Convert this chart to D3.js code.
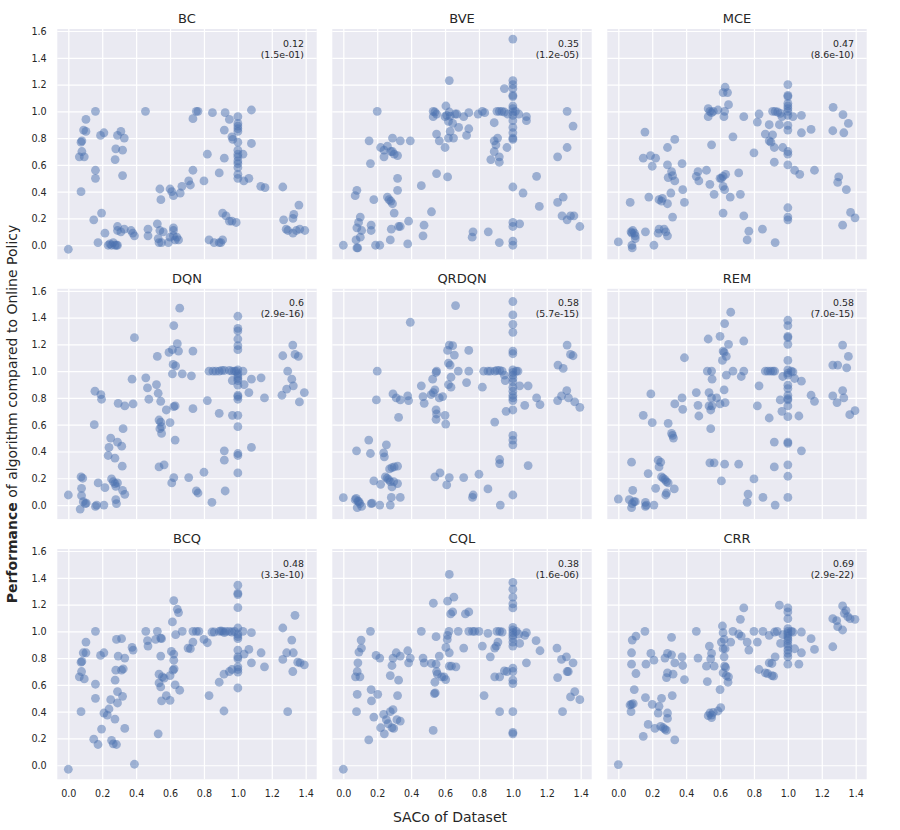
<!DOCTYPE html>
<html>
<head>
<meta charset="utf-8">
<script src="https://cdn.jsdelivr.net/npm/d3@7"></script>
<style>
  body { margin: 0; background: #fff; }
  svg { font-family: "DejaVu Sans", sans-serif; }
</style>
</head>
<body>
<svg id="chart"></svg>
<script>
// panel names, correlation and p-value labels
let algorithms = ["BC", "BVE", "MCE", "DQN", "QRDQN", "REM", "BCQ", "CQL", "CRR"];
let corrLabels = ["0.12", "0.35", "0.47", "0.6", "0.58", "0.58", "0.48", "0.38", "0.69"];
let pLabels = ["(1.5e-01)", "(1.2e-05)", "(8.6e-10)", "(2.9e-16)", "(5.7e-15)", "(7.0e-15)", "(3.3e-10)", "(1.6e-06)", "(2.9e-22)"];

let xTicks = [0, 0.2, 0.4, 0.6, 0.8, 1.0, 1.2, 1.4];
let yTicks = [0, 0.2, 0.4, 0.6, 0.8, 1.0, 1.2, 1.4, 1.6];

// [SACo, performance] per algorithm
let bc = [[0.0,-0.03],[0.075,0.40],[0.065,0.66],[0.08,0.70],[0.075,0.77],[0.08,0.78],[0.094,0.66],[0.09,0.86],[0.104,0.85],[0.104,0.94],[0.16,1.0],[0.16,0.56],[0.16,0.50],[0.15,0.19],[0.175,0.02],[0.196,0.24],[0.19,0.82],[0.21,0.84],[0.216,0.09],[0.235,0.0],[0.245,0.01],[0.255,0.0],[0.265,0.02],[0.275,0.0],[0.284,0.0],[0.29,0.0],[0.276,0.64],[0.28,0.72],[0.29,0.82],[0.31,0.85],[0.32,0.71],[0.33,0.80],[0.32,0.52],[0.29,0.14],[0.29,0.11],[0.31,0.10],[0.33,0.12],[0.37,0.11],[0.38,0.09],[0.39,0.07],[0.455,1.0],[0.47,0.12],[0.47,0.07],[0.525,0.16],[0.53,0.05],[0.535,0.02],[0.55,0.02],[0.54,0.11],[0.56,0.10],[0.54,0.42],[0.546,0.34],[0.59,0.02],[0.60,0.06],[0.60,0.42],[0.61,0.40],[0.62,0.37],[0.62,0.13],[0.62,0.07],[0.63,0.04],[0.64,0.06],[0.65,0.04],[0.62,0.11],[0.66,0.39],[0.67,0.44],[0.71,0.48],[0.72,0.45],[0.735,0.56],[0.735,0.945],[0.755,1.0],[0.765,1.0],[0.80,0.48],[0.82,0.68],[0.83,0.04],[0.85,0.99],[0.86,0.02],[0.89,0.02],[0.90,0.02],[0.91,0.04],[0.89,0.54],[0.92,0.65],[0.92,0.86],[0.925,0.99],[0.91,0.24],[0.93,0.22],[0.95,0.18],[0.965,0.18],[0.99,0.17],[0.95,0.94],[0.965,0.81],[0.97,0.79],[1.0,0.96],[1.0,0.91],[1.0,0.89],[1.0,0.87],[1.0,0.85],[1.0,0.77],[1.0,0.71],[1.0,0.68],[1.0,0.66],[1.0,0.63],[1.0,0.61],[1.0,0.58],[1.0,0.53],[1.0,0.50],[1.03,0.68],[1.035,0.48],[1.065,0.50],[1.08,1.01],[1.08,0.76],[1.135,0.44],[1.16,0.43],[1.265,0.435],[1.27,0.19],[1.285,0.12],[1.295,0.11],[1.325,0.09],[1.325,0.20],[1.33,0.23],[1.36,0.30],[1.345,0.11],[1.365,0.12],[1.395,0.11]];

let bve = [[0.0,0.0],[0.08,-0.02],[0.085,-0.02],[0.075,0.04],[0.1,0.06],[0.08,0.13],[0.09,0.17],[0.1,0.21],[0.108,0.11],[0.07,0.37],[0.08,0.41],[0.164,0.15],[0.164,0.11],[0.19,0.0],[0.215,0.0],[0.18,0.34],[0.16,0.61],[0.152,0.78],[0.2,1.0],[0.22,0.73],[0.24,0.66],[0.24,0.71],[0.26,0.74],[0.28,0.70],[0.29,0.70],[0.30,0.68],[0.32,0.67],[0.29,0.80],[0.336,0.78],[0.395,0.78],[0.26,0.36],[0.27,0.34],[0.28,0.33],[0.29,0.31],[0.32,0.50],[0.32,0.41],[0.30,0.24],[0.283,0.12],[0.326,0.14],[0.336,0.14],[0.277,0.04],[0.38,0.01],[0.385,0.18],[0.46,0.445],[0.476,0.15],[0.47,0.07],[0.52,0.25],[0.55,0.535],[0.55,0.83],[0.566,0.78],[0.53,1.0],[0.54,0.995],[0.53,0.96],[0.55,0.98],[0.605,1.04],[0.625,1.23],[0.6,0.96],[0.61,0.97],[0.62,0.925],[0.625,0.995],[0.63,0.965],[0.645,0.91],[0.66,0.98],[0.67,0.98],[0.68,0.88],[0.63,0.85],[0.62,0.80],[0.65,0.80],[0.60,0.73],[0.615,0.51],[0.71,0.96],[0.74,0.99],[0.74,0.87],[0.727,0.82],[0.795,0.98],[0.82,1.0],[0.834,0.99],[0.89,0.915],[0.91,0.80],[0.89,0.78],[0.90,0.75],[0.89,0.70],[0.92,0.66],[0.92,0.62],[0.87,0.64],[0.906,1.0],[0.92,1.0],[0.935,1.0],[0.95,0.995],[0.95,1.17],[0.965,0.73],[0.97,0.98],[1.0,1.54],[1.0,1.23],[1.0,1.20],[1.0,1.17],[1.0,1.12],[1.0,1.11],[1.0,1.04],[1.0,1.02],[1.0,0.995],[1.0,0.97],[1.0,0.93],[1.0,0.88],[1.0,0.84],[1.0,0.80],[1.0,0.79],[1.015,1.0],[1.035,0.98],[1.0,0.435],[1.0,0.17],[1.0,0.14],[1.04,0.16],[1.0,0.03],[1.0,0.0],[0.92,0.02],[0.855,0.10],[0.765,0.10],[0.76,0.06],[1.06,0.39],[1.08,0.96],[1.08,0.93],[1.14,0.515],[1.156,0.29],[1.264,0.66],[1.32,0.73],[1.32,1.0],[1.355,0.89],[1.264,0.32],[1.297,0.36],[1.29,0.22],[1.32,0.19],[1.34,0.22],[1.36,0.22],[1.395,0.14]];

let mce = [[0.0,0.025],[0.07,0.32],[0.075,0.10],[0.08,0.09],[0.085,0.11],[0.095,0.09],[0.1,0.05],[0.08,0.0],[0.082,-0.02],[0.1,0.07],[0.16,0.10],[0.21,0.0],[0.235,0.09],[0.24,0.12],[0.27,0.12],[0.28,0.10],[0.29,0.07],[0.18,0.36],[0.24,0.34],[0.255,0.33],[0.26,0.35],[0.29,0.31],[0.31,0.39],[0.32,0.21],[0.157,0.845],[0.147,0.65],[0.19,0.67],[0.2,0.59],[0.22,0.65],[0.29,0.60],[0.29,0.73],[0.333,0.79],[0.314,0.55],[0.294,0.505],[0.32,0.52],[0.333,0.48],[0.376,0.61],[0.38,0.415],[0.39,0.32],[0.46,0.515],[0.47,0.55],[0.475,0.48],[0.52,0.56],[0.54,0.455],[0.565,0.38],[0.55,0.75],[0.53,1.02],[0.54,1.0],[0.55,0.99],[0.56,1.0],[0.53,0.96],[0.588,1.01],[0.608,0.50],[0.618,0.515],[0.633,0.53],[0.6,0.50],[0.618,0.44],[0.627,0.415],[0.618,0.24],[0.618,1.14],[0.63,1.18],[0.644,1.14],[0.65,1.05],[0.627,1.0],[0.623,0.96],[0.676,0.81],[0.66,0.36],[0.71,0.54],[0.72,0.38],[0.74,0.96],[0.74,0.22],[0.77,0.105],[0.76,0.04],[0.80,0.69],[0.82,0.92],[0.83,0.98],[0.85,0.12],[0.867,0.83],[0.89,0.90],[0.89,0.78],[0.90,0.77],[0.91,0.825],[0.92,0.73],[0.92,0.62],[0.91,1.0],[0.925,1.0],[0.94,0.995],[0.95,0.90],[0.956,0.985],[0.965,0.96],[0.97,0.73],[0.925,0.02],[1.0,1.20],[1.0,1.12],[1.0,1.11],[1.0,1.06],[1.0,1.04],[1.0,1.02],[1.0,1.0],[1.0,0.97],[1.0,0.895],[1.0,0.86],[1.0,0.70],[1.0,0.68],[1.0,0.60],[1.0,0.28],[1.0,0.21],[1.0,0.19],[1.03,0.96],[1.04,0.56],[1.07,0.53],[1.08,0.97],[1.08,0.84],[1.137,0.865],[1.157,0.56],[1.267,1.03],[1.265,0.855],[1.3,0.51],[1.294,0.47],[1.325,0.975],[1.33,0.84],[1.357,0.91],[1.345,0.415],[1.323,0.15],[1.37,0.245],[1.396,0.205]];

let dqn = [[0.0,0.075],[0.07,-0.03],[0.075,0.21],[0.085,0.20],[0.078,0.125],[0.078,0.07],[0.088,0.025],[0.1,0.01],[0.106,0.015],[0.157,0.85],[0.153,0.60],[0.16,-0.01],[0.167,0.0],[0.176,0.165],[0.192,0.825],[0.196,0.79],[0.21,0.0],[0.216,0.13],[0.235,0.37],[0.24,0.43],[0.25,0.50],[0.255,0.195],[0.265,0.175],[0.275,0.16],[0.28,0.14],[0.29,0.165],[0.275,0.35],[0.29,0.47],[0.315,0.44],[0.294,0.76],[0.333,0.74],[0.323,0.57],[0.318,0.29],[0.32,0.11],[0.333,0.08],[0.28,0.04],[0.284,0.01],[0.376,0.94],[0.382,0.755],[0.39,1.25],[0.457,0.95],[0.467,0.875],[0.52,0.90],[0.53,0.835],[0.475,0.79],[0.545,0.775],[0.525,1.11],[0.535,0.635],[0.545,0.62],[0.55,0.585],[0.54,0.57],[0.55,0.535],[0.535,0.285],[0.565,0.30],[0.578,0.71],[0.6,0.615],[0.594,1.14],[0.614,1.16],[0.618,1.05],[0.633,1.04],[0.622,1.34],[0.657,1.47],[0.643,1.205],[0.65,1.15],[0.614,0.98],[0.672,0.98],[0.622,0.735],[0.63,0.74],[0.63,0.485],[0.622,0.205],[0.61,0.165],[0.71,0.205],[0.726,0.965],[0.735,1.15],[0.735,0.72],[0.755,0.105],[0.765,0.09],[0.80,0.245],[0.82,0.78],[0.83,1.0],[0.853,1.0],[0.87,1.0],[0.89,1.0],[0.905,1.005],[0.92,1.005],[0.95,1.005],[0.965,1.0],[0.98,1.0],[0.99,1.0],[1.0,1.01],[1.0,0.98],[1.0,0.96],[1.0,0.945],[1.0,0.93],[0.967,0.93],[1.0,0.895],[1.0,0.82],[1.0,0.81],[1.0,0.79],[1.0,1.41],[1.0,1.32],[1.0,1.30],[1.0,1.24],[1.0,1.19],[1.0,1.16],[1.0,0.67],[1.0,0.585],[1.0,0.385],[1.0,0.37],[1.0,0.24],[0.968,0.67],[0.92,0.405],[0.92,0.335],[0.925,0.105],[0.89,0.685],[0.847,0.02],[1.03,1.0],[1.037,0.90],[1.08,0.94],[1.065,0.84],[1.08,0.43],[1.137,0.95],[1.157,0.80],[1.265,1.115],[1.324,1.195],[1.337,1.125],[1.357,1.11],[1.294,1.0],[1.318,0.94],[1.288,0.865],[1.26,0.82],[1.327,0.89],[1.363,0.77],[1.392,0.84]];

let qrdqn = [[0.0,0.055],[0.07,0.04],[0.076,0.05],[0.086,0.03],[0.092,0.025],[0.098,0.01],[0.108,-0.01],[0.082,-0.02],[0.078,0.405],[0.15,0.485],[0.16,0.385],[0.164,0.01],[0.17,0.015],[0.18,0.18],[0.2,1.0],[0.195,0.785],[0.215,0.0],[0.22,0.155],[0.238,0.39],[0.242,0.36],[0.254,0.45],[0.248,0.21],[0.258,0.20],[0.267,0.19],[0.277,0.175],[0.287,0.135],[0.297,0.175],[0.32,0.16],[0.273,0.27],[0.287,0.28],[0.30,0.285],[0.32,0.29],[0.283,0.057],[0.277,0.0],[0.336,0.057],[0.293,0.83],[0.312,0.80],[0.336,0.785],[0.326,0.655],[0.38,0.815],[0.385,0.78],[0.395,1.365],[0.46,0.89],[0.47,0.81],[0.477,0.76],[0.518,0.825],[0.527,0.94],[0.54,0.86],[0.55,1.0],[0.547,0.99],[0.531,0.84],[0.566,0.80],[0.586,0.81],[0.547,0.71],[0.55,0.68],[0.547,0.64],[0.6,0.67],[0.604,0.605],[0.54,0.21],[0.57,0.24],[0.61,0.15],[0.625,0.205],[0.615,1.155],[0.625,1.195],[0.645,1.19],[0.655,1.12],[0.62,1.06],[0.63,1.045],[0.635,0.955],[0.62,0.90],[0.635,0.88],[0.662,1.49],[0.678,1.0],[0.727,0.915],[0.74,1.0],[0.74,1.155],[0.71,0.205],[0.766,0.075],[0.762,0.057],[0.80,0.23],[0.82,0.88],[0.828,1.0],[0.853,1.0],[0.867,1.0],[0.893,1.0],[0.906,1.005],[0.922,1.005],[0.853,0.12],[0.893,0.62],[0.922,0.34],[0.922,0.31],[0.926,0.0],[0.937,1.0],[0.95,0.97],[0.955,0.93],[0.96,0.70],[1.0,1.52],[1.0,1.42],[1.0,1.35],[1.0,1.29],[1.0,1.15],[1.0,1.13],[1.0,1.01],[1.0,0.99],[1.0,0.97],[1.0,0.945],[1.0,0.92],[1.0,0.88],[1.0,0.85],[1.0,0.82],[1.0,0.80],[1.0,0.78],[1.0,0.71],[1.0,0.52],[1.0,0.485],[1.0,0.45],[1.0,0.075],[1.02,1.0],[1.03,1.0],[1.04,0.89],[1.07,0.745],[1.09,0.89],[1.09,0.295],[1.14,0.80],[1.16,0.75],[1.266,1.045],[1.297,1.02],[1.32,1.195],[1.34,1.125],[1.355,1.115],[1.264,0.78],[1.287,0.815],[1.318,0.855],[1.328,0.80],[1.365,0.77],[1.395,0.73]];

let rem = [[0.0,0.045],[0.065,0.04],[0.078,-0.02],[0.082,0.01],[0.092,0.025],[0.1,0.025],[0.085,0.11],[0.078,0.32],[0.147,0.67],[0.16,-0.01],[0.165,0.0],[0.16,0.02],[0.176,0.235],[0.192,0.83],[0.2,0.615],[0.21,0.0],[0.22,0.125],[0.235,0.335],[0.25,0.32],[0.24,0.285],[0.255,0.21],[0.265,0.20],[0.275,0.19],[0.284,0.175],[0.294,0.165],[0.28,0.075],[0.284,0.09],[0.33,0.12],[0.294,0.61],[0.314,0.535],[0.32,0.52],[0.325,0.50],[0.333,0.755],[0.376,0.80],[0.38,0.715],[0.39,1.10],[0.46,0.84],[0.47,0.745],[0.475,0.665],[0.53,1.24],[0.525,1.0],[0.55,1.0],[0.553,0.94],[0.535,0.84],[0.55,0.80],[0.553,0.74],[0.545,0.71],[0.535,0.74],[0.58,0.80],[0.6,0.755],[0.545,0.57],[0.54,0.315],[0.565,0.315],[0.6,1.26],[0.627,1.355],[0.618,1.15],[0.624,1.14],[0.614,1.08],[0.637,1.11],[0.65,1.20],[0.663,1.44],[0.637,0.97],[0.624,0.86],[0.63,0.765],[0.627,0.305],[0.608,0.18],[0.676,1.0],[0.71,0.305],[0.725,0.96],[0.74,1.0],[0.74,1.225],[0.765,0.082],[0.76,0.02],[0.80,0.195],[0.82,0.74],[0.83,0.89],[0.853,0.057],[0.867,1.0],[0.882,1.0],[0.898,1.0],[0.912,1.0],[0.922,1.0],[0.89,0.65],[0.92,0.47],[0.92,0.285],[0.925,0.0],[0.955,0.785],[0.965,0.70],[0.97,0.96],[1.0,1.38],[1.0,1.34],[1.0,1.26],[1.0,1.25],[1.0,1.20],[1.0,1.08],[1.0,1.01],[1.0,0.985],[1.0,0.97],[1.0,0.895],[1.0,0.87],[1.0,0.82],[1.0,0.795],[1.0,0.785],[1.0,0.74],[1.0,0.66],[1.0,0.47],[1.0,0.46],[1.0,0.30],[1.0,0.215],[1.0,0.057],[1.02,1.0],[1.03,0.995],[1.04,0.945],[1.065,0.665],[1.08,0.925],[1.08,0.405],[1.137,0.82],[1.157,0.775],[1.265,1.045],[1.294,1.045],[1.323,1.195],[1.347,1.025],[1.357,1.11],[1.265,0.815],[1.29,0.765],[1.323,0.855],[1.33,0.80],[1.365,0.675],[1.396,0.705]];

let bcq = [[0.0,-0.03],[0.075,0.40],[0.065,0.66],[0.078,0.70],[0.075,0.77],[0.08,0.775],[0.094,0.645],[0.088,0.84],[0.104,0.84],[0.104,0.92],[0.16,1.0],[0.16,0.605],[0.16,0.50],[0.15,0.195],[0.175,0.155],[0.196,0.27],[0.19,0.82],[0.21,0.84],[0.21,0.39],[0.23,0.375],[0.24,0.42],[0.25,0.49],[0.255,0.185],[0.265,0.16],[0.284,0.155],[0.275,0.345],[0.29,0.465],[0.29,0.55],[0.32,0.515],[0.276,0.635],[0.28,0.71],[0.314,0.71],[0.324,0.72],[0.294,0.815],[0.333,0.80],[0.284,0.94],[0.314,0.945],[0.333,0.275],[0.376,0.88],[0.382,0.86],[0.39,0.0075],[0.457,1.0],[0.467,0.93],[0.47,0.89],[0.515,0.94],[0.525,1.0],[0.545,0.95],[0.55,0.945],[0.545,0.815],[0.53,0.235],[0.535,0.68],[0.535,0.615],[0.545,0.585],[0.555,0.66],[0.565,0.65],[0.55,0.48],[0.578,0.52],[0.6,0.485],[0.6,0.67],[0.608,0.85],[0.618,0.71],[0.624,0.72],[0.622,0.83],[0.622,0.785],[0.63,0.60],[0.657,0.56],[0.614,1.07],[0.622,1.23],[0.643,1.165],[0.65,1.14],[0.633,0.975],[0.672,1.0],[0.706,0.875],[0.72,0.87],[0.735,0.92],[0.735,1.0],[0.755,1.0],[0.77,1.0],[0.80,0.94],[0.82,0.915],[0.83,0.52],[0.847,0.995],[0.86,0.995],[0.89,1.0],[0.9,1.003],[0.91,1.0],[0.92,0.99],[0.93,1.0],[0.95,1.0],[0.965,0.995],[0.98,1.0],[0.89,0.62],[0.918,0.68],[0.918,0.405],[0.95,0.70],[0.965,0.715],[1.0,1.345],[1.0,1.285],[1.0,1.275],[1.0,1.177],[1.0,1.025],[1.0,0.98],[1.0,0.96],[1.0,0.945],[1.0,0.86],[1.0,0.81],[1.0,0.795],[1.0,0.735],[1.0,0.715],[1.0,0.695],[1.0,0.577],[1.03,1.0],[1.037,0.83],[1.065,0.865],[1.08,0.765],[1.08,0.99],[1.137,0.84],[1.157,0.735],[1.265,1.025],[1.265,0.79],[1.288,0.84],[1.294,0.40],[1.318,0.935],[1.327,0.84],[1.337,1.12],[1.324,0.70],[1.353,0.77],[1.367,0.765],[1.392,0.75]];

let cql = [[0.0,-0.03],[0.072,0.66],[0.082,0.70],[0.098,0.66],[0.086,0.765],[0.092,0.845],[0.107,0.875],[0.105,0.935],[0.082,0.53],[0.078,0.40],[0.15,0.19],[0.16,1.0],[0.164,0.565],[0.166,0.48],[0.18,0.36],[0.193,0.82],[0.215,0.80],[0.203,0.53],[0.22,0.28],[0.238,0.38],[0.242,0.235],[0.254,0.34],[0.264,0.31],[0.277,0.40],[0.293,0.415],[0.287,0.28],[0.297,0.275],[0.316,0.34],[0.336,0.33],[0.277,0.67],[0.287,0.745],[0.293,0.80],[0.312,0.84],[0.336,0.815],[0.326,0.635],[0.32,0.52],[0.38,0.855],[0.385,0.765],[0.395,0.80],[0.46,1.0],[0.47,0.80],[0.477,0.765],[0.52,0.76],[0.531,1.21],[0.537,0.535],[0.542,0.54],[0.547,0.96],[0.547,0.755],[0.55,0.70],[0.555,0.68],[0.54,0.62],[0.566,0.815],[0.53,0.26],[0.58,0.66],[0.604,0.64],[0.594,0.66],[0.605,0.88],[0.615,0.97],[0.613,0.94],[0.623,1.0],[0.625,0.84],[0.625,0.74],[0.638,0.74],[0.664,0.735],[0.615,1.225],[0.625,1.425],[0.652,1.255],[0.633,1.13],[0.645,1.145],[0.678,1.0],[0.71,0.875],[0.72,1.13],[0.74,1.145],[0.74,1.0],[0.762,1.0],[0.775,1.0],[0.80,1.0],[0.82,0.89],[0.83,0.52],[0.853,0.985],[0.867,0.81],[0.893,0.875],[0.902,0.89],[0.912,0.92],[0.906,1.0],[0.922,1.0],[0.937,0.995],[0.893,0.66],[0.922,0.66],[0.922,0.40],[0.95,0.705],[0.965,0.70],[1.0,1.365],[1.0,1.315],[1.0,1.255],[1.0,1.205],[1.0,1.175],[1.0,1.03],[1.0,1.01],[1.0,0.99],[1.0,0.97],[1.0,0.95],[1.0,0.92],[1.0,0.89],[1.0,0.725],[1.0,0.70],[1.0,0.635],[1.0,0.61],[1.0,0.40],[1.0,0.245],[1.0,0.235],[1.02,1.0],[1.035,0.98],[1.04,0.91],[1.07,0.97],[1.08,0.99],[1.08,0.765],[1.137,0.93],[1.16,0.855],[1.26,0.875],[1.287,0.79],[1.316,0.81],[1.32,0.70],[1.327,0.70],[1.355,0.765],[1.264,0.655],[1.293,0.40],[1.34,0.51],[1.365,0.55],[1.395,0.49]];

let crr = [[0.0,0.005],[0.069,0.45],[0.078,0.455],[0.088,0.46],[0.075,0.40],[0.094,0.565],[0.104,0.685],[0.078,0.755],[0.078,0.84],[0.082,0.935],[0.104,0.965],[0.157,1.0],[0.16,0.505],[0.163,0.755],[0.147,0.215],[0.176,0.305],[0.192,0.835],[0.21,0.785],[0.2,0.455],[0.216,0.275],[0.235,0.39],[0.24,0.44],[0.255,0.50],[0.25,0.29],[0.265,0.28],[0.275,0.27],[0.284,0.26],[0.29,0.39],[0.29,0.35],[0.333,0.19],[0.275,0.80],[0.29,0.835],[0.314,0.825],[0.333,0.765],[0.29,0.69],[0.284,0.655],[0.323,0.68],[0.318,0.52],[0.314,0.955],[0.376,0.81],[0.38,0.745],[0.39,0.64],[0.46,1.0],[0.47,0.80],[0.52,0.74],[0.525,0.625],[0.537,0.89],[0.55,0.835],[0.545,0.795],[0.565,0.74],[0.53,0.37],[0.54,0.39],[0.55,0.375],[0.56,0.395],[0.55,0.355],[0.588,0.405],[0.604,0.43],[0.6,0.565],[0.614,1.04],[0.618,0.99],[0.608,0.92],[0.618,0.87],[0.624,0.94],[0.63,0.87],[0.624,0.81],[0.627,0.74],[0.633,0.73],[0.618,0.69],[0.637,0.67],[0.65,0.66],[0.647,0.62],[0.663,0.92],[0.676,1.0],[0.71,0.98],[0.725,0.965],[0.72,1.09],[0.74,1.175],[0.76,0.92],[0.77,0.86],[0.80,1.0],[0.82,0.92],[0.83,0.715],[0.853,1.0],[0.867,0.69],[0.89,0.97],[0.88,0.685],[0.906,0.67],[0.916,0.665],[0.89,0.765],[0.906,0.76],[0.925,0.81],[0.922,0.995],[0.937,1.0],[0.95,1.195],[0.957,0.91],[0.97,0.975],[1.0,1.175],[1.0,1.145],[1.0,1.095],[1.0,1.02],[1.0,1.0],[1.0,0.985],[1.0,0.965],[1.0,0.945],[1.0,0.93],[1.0,0.905],[1.0,0.885],[1.0,0.86],[1.0,0.835],[1.0,0.81],[1.0,0.755],[1.02,1.0],[1.03,0.995],[1.04,0.87],[1.065,0.755],[1.08,0.995],[1.08,0.84],[1.137,0.945],[1.157,0.865],[1.265,1.095],[1.265,0.885],[1.288,1.08],[1.294,1.035],[1.323,1.01],[1.323,1.19],[1.333,1.135],[1.343,1.155],[1.353,1.11],[1.367,1.095],[1.396,1.09]];

let panelData = [bc, bve, mce, dqn, qrdqn, rem, bcq, cql, crr];

//svg width and height
let svg = d3.select("#chart")
  .attr("width", 900)
  .attr("height", 830);

// panel grid geometry
let colLeft = [57.3, 332.3, 607.3];
let rowTop = [29, 288.8, 549];
let pw = 259.4, ph = 230.3;

let x = d3.scaleLinear().domain([-0.065, 1.465]).range([0, pw]);
let y = d3.scaleLinear().domain([-0.105, 1.615]).range([ph, 0]);

let textColor = "#262626";

algorithms.forEach(function (name, i) {
  let col = i % 3, row = Math.floor(i / 3);
  let g = svg.append("g")
    .attr("transform", "translate(" + colLeft[col] + "," + rowTop[row] + ")");

  g.append("rect")
    .attr("width", pw)
    .attr("height", ph)
    .attr("fill", "#eaeaf2");

  // gridlines via axes with full-length ticks
  let gx = g.append("g")
    .attr("transform", "translate(0," + ph + ")")
    .call(d3.axisBottom(x).tickValues(xTicks).tickSize(-ph).tickFormat(d3.format(".1f")));
  let gy = g.append("g")
    .call(d3.axisLeft(y).tickValues(yTicks).tickSize(-pw).tickFormat(d3.format(".1f")));

  [gx, gy].forEach(function (a) {
    a.select(".domain").remove();
    a.selectAll(".tick line").attr("stroke", "#fff").attr("stroke-width", 1.2);
    a.selectAll(".tick text")
      .attr("fill", textColor)
      .style("font-size", "9.6px")
      .style("font-family", "DejaVu Sans");
  });
  gx.selectAll(".tick text").attr("dy", null).attr("y", 17.4);
  gy.selectAll(".tick text").attr("x", -10.6).attr("dy", "0.35em");
  if (row < 2) gx.selectAll(".tick text").remove();
  if (col > 0) gy.selectAll(".tick text").remove();

  g.selectAll("circle")
    .data(panelData[i])
    .enter()
    .append("circle")
    .attr("cx", d => x(d[0]))
    .attr("cy", d => y(d[1]))
    .attr("r", 4.4)
    .attr("fill", "#4c72b0")
    .attr("fill-opacity", 0.5);

  g.append("text")
    .attr("x", pw / 2)
    .attr("y", -6)
    .attr("text-anchor", "middle")
    .attr("fill", textColor)
    .style("font-size", "13px")
    .text(name);

  g.append("text")
    .attr("x", pw - 12.7)
    .attr("y", 17.7)
    .attr("text-anchor", "end")
    .attr("fill", textColor)
    .style("font-size", "9.4px")
    .text(corrLabels[i]);
  g.append("text")
    .attr("x", pw - 12.7)
    .attr("y", 28.7)
    .attr("text-anchor", "end")
    .attr("fill", textColor)
    .style("font-size", "9.4px")
    .text(pLabels[i]);
});

// shared axis labels
svg.append("text")
  .attr("x", 450)
  .attr("y", 821.5)
  .attr("text-anchor", "middle")
  .attr("fill", textColor)
  .style("font-size", "14px")
  .text("SACo of Dataset");

let ylab = svg.append("text")
  .attr("transform", "translate(16.5,414) rotate(-90)")
  .attr("text-anchor", "middle")
  .attr("fill", textColor)
  .style("font-size", "14px");
ylab.append("tspan").style("font-weight", "bold").text("Performance");
ylab.append("tspan").text(" of algorithm compared to Online Policy");
</script>
</body>
</html>
